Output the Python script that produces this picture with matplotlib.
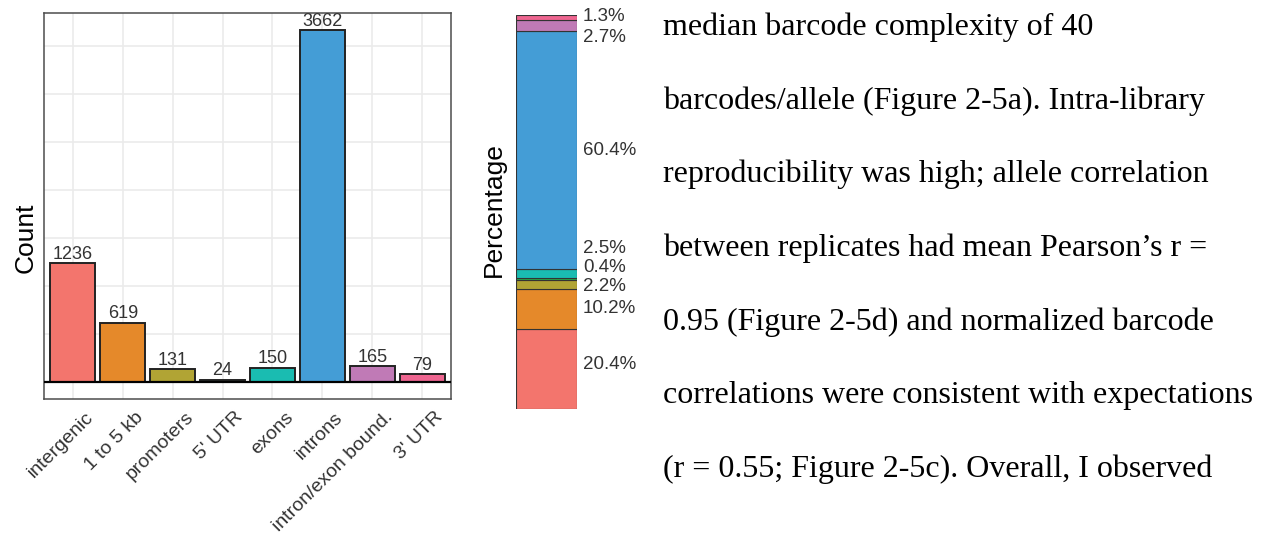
import numpy as np
import matplotlib
matplotlib.use('Agg')
import matplotlib.pyplot as plt
import matplotlib.transforms as mtransforms

## Datos
categories = ['intergenic', '1 to 5 kb', 'promoters', "5' UTR", 'exons',
              'introns', 'intron/exon bound.', "3' UTR"]
counts     = [1236, 619, 131, 24, 150, 3662, 165, 79]
colors     = ['#F3756D', '#E5892A', '#B1A434', '#2AA84A', '#1ABCB1',
              '#449DD6', '#C07AB6', '#EE6590']

## Texto del documento a la derecha
body_lines = ['median barcode complexity of 40',
              'barcodes/allele (Figure 2-5a). Intra-library',
              'reproducibility was high; allele correlation',
              'between replicates had mean Pearson\u2019s r =',
              '0.95 (Figure 2-5d) and normalized barcode',
              'correlations were consistent with expectations',
              '(r = 0.55; Figure 2-5c). Overall, I observed']

## Posiciones de las etiquetas de porcentaje (en %, desplazadas para no solaparse)
pct_label_pos = [11.2, 25.6, 31.2, 35.9, 40.8, 65.7, 94.2, 99.7]

plt.rcParams['font.family'] = ['Liberation Sans', 'DejaVu Sans']

W, H = 1265, 536
fig = plt.figure(figsize=(W/100, H/100), dpi=100)

## Grafico de barras (Count)
ax = fig.add_axes([44/W, 1-399/H, 407/W, 386/H])
x = np.arange(1, len(categories)+1)
ax.bar(x, counts, width=0.9, color=colors, edgecolor='#222222', linewidth=1.4, zorder=3)
ax.axhline(0, color='black', linewidth=1.6, zorder=4)
for xi, c in zip(x, counts):
    ax.annotate(str(c), (xi, c), xytext=(0, 0.3), textcoords='offset points',
                ha='center', va='bottom', fontsize=13, color='#333333', zorder=5)
ax.set_xlim(0.42, 8.58)
ax.set_ylim(-177, 3840)
ax.set_yticks(np.arange(500, 3501, 500))
ax.set_yticklabels([])
ax.set_xticks(x)
ax.set_xticklabels(categories, rotation=45, ha='right', rotation_mode='anchor',
                   fontsize=14, color='#333333')
ax.tick_params(length=0, pad=7)
offset = mtransforms.ScaledTranslation(0.12, 0, fig.dpi_scale_trans)
for lab in ax.get_xticklabels():
    lab.set_transform(lab.get_transform() + offset)
ax.grid(True, color='#EBEBEB', linewidth=1.2, zorder=0)
ax.set_axisbelow(True)
for sp in ax.spines.values():
    sp.set_color('#4D4D4D')
    sp.set_linewidth(1.1)
fig.text(26/W, 1-238/H, 'Count', rotation=90, ha='center', va='center', fontsize=19)

## Barra apilada (Percentage)
ax2 = fig.add_axes([516/W, 1-409/H, 61/W, 394/H])
pct = 100*np.array(counts)/np.sum(counts)
bottoms = np.concatenate([[0], np.cumsum(pct)[:-1]])
ax2.bar(0, pct, bottom=bottoms, width=1, color=colors, edgecolor='#333333', linewidth=0.8)
for p, yl in zip(pct, pct_label_pos):
    ax2.text(0.6, yl, '%.1f%%' % p, ha='left', va='center', fontsize=13.5,
             color='#333333', clip_on=False)
ax2.set_xlim(-0.5, 0.5)
ax2.set_ylim(0, np.sum(pct))
ax2.set_xticks([])
ax2.set_yticks([])
for sp in ax2.spines.values():
    sp.set_visible(False)
fig.text(494/W, 1-210/H, 'Percentage', rotation=90, ha='center', va='center', fontsize=19)

## Texto
for i, line in enumerate(body_lines):
    fig.text(663/W, 1-(35+73.7*i)/H, line, ha='left', va='baseline',
             family=['Liberation Serif', 'DejaVu Serif'], fontsize=23, color='black')

fig.savefig('out.png', dpi=100)
